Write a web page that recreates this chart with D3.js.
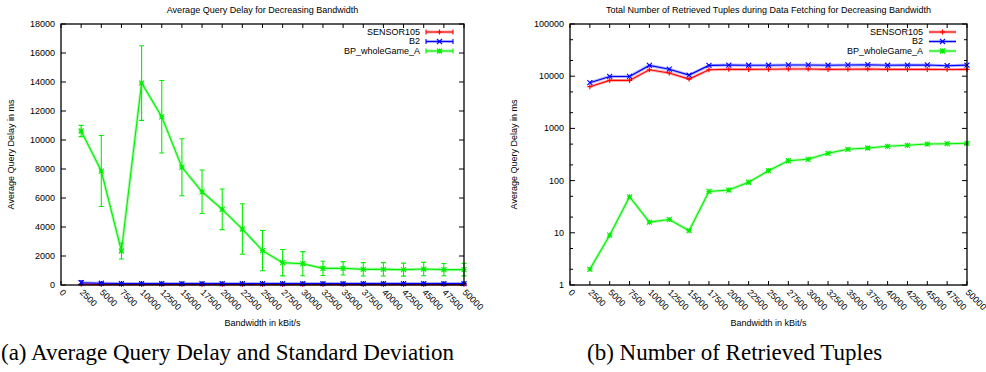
<!DOCTYPE html>
<html>
<head>
<meta charset="utf-8">
<script src="https://cdn.jsdelivr.net/npm/d3@7"></script>
<style>
  body { margin: 0; background: #fff; }
  svg { display: block; }
  text { font-family: "Liberation Sans", Arial, sans-serif; fill: #000; }
  .caption { font-family: "Liberation Serif", "Times New Roman", serif; }
</style>
</head>
<body>
<svg id="fig" width="986" height="372"></svg>
<script>
// bandwidth steps (kBit/s)
const bandwidth = [2500, 5000, 7500, 10000, 12500, 15000, 17500, 20000, 22500, 25000,
  27500, 30000, 32500, 35000, 37500, 40000, 42500, 45000, 47500, 50000];
const xTickLabels = ['0', '2500', '5000', '7500', '10000', '12500', '15000', '17500', '20000',
  '22500', '25000', '27500', '30000', '32500', '35000', '37500', '40000', '42500', '45000',
  '47500', '50000'];
const delayTicks = [0, 2000, 4000, 6000, 8000, 10000, 12000, 14000, 16000, 18000];
const tupleTicks = [1, 10, 100, 1000, 10000, 100000];
const seriesNames = ['SENSOR105', 'B2', 'BP_wholeGame_A'];

// (a) average query delay in ms, with standard deviation
const delaySensor = [45, 40, 40, 40, 40, 40, 40, 40, 40, 40, 40, 40, 40, 40, 40, 40, 40, 40, 40, 40];
const delaySensorSd = [20, 15, 15, 15, 15, 15, 15, 15, 15, 15, 15, 15, 15, 15, 15, 15, 15, 15, 15, 15];
const delayB2 = [160, 120, 100, 100, 100, 100, 100, 100, 100, 100, 100, 100, 100, 100, 100, 100, 100, 100, 100, 100];
const delayB2Sd = [130, 50, 30, 30, 30, 30, 30, 30, 30, 30, 30, 30, 30, 30, 30, 30, 30, 30, 30, 30];
const delayBP = [10620, 7860, 2345, 13930, 11600, 8120, 6430, 5220, 3860, 2370,
  1540, 1470, 1150, 1150, 1080, 1080, 1060, 1100, 1060, 1060];
const delayBPSd = [390, 2450, 550, 2575, 2500, 1965, 1500, 1400, 1740, 1390,
  910, 830, 490, 460, 460, 460, 450, 460, 420, 430];

// (b) number of retrieved tuples
const tuplesSensor = [6300, 8300, 8300, 13300, 11500, 8800, 13300, 13600, 13500, 13600,
  13700, 13700, 13500, 13600, 13700, 13500, 13500, 13500, 13400, 13500];
const tuplesB2 = [7500, 9900, 9900, 16100, 13600, 10500, 16100, 16300, 16200, 16200,
  16400, 16400, 16200, 16400, 16600, 16200, 16300, 16400, 15900, 16300];
const tuplesBP = [2, 9, 49, 16, 18, 11, 62, 66, 93, 155, 240, 256, 333, 398, 421, 454, 475, 502, 509, 518];

const colors = ['#ff0000', '#0000ff', '#00f000'];
const markers = ['plus', 'cross', 'star'];

const svg = d3.select('#fig');

function markerPath(type, s) {
  const plus = `M${-s},0H${s}M0,${-s}V${s}`;
  const cross = `M${-s},${-s}L${s},${s}M${-s},${s}L${s},${-s}`;
  if (type === 'plus') return plus;
  if (type === 'cross') return cross;
  return plus + cross;
}

function drawPanel(cfg) {
  const { left, right, top, bottom } = cfg;
  const g = svg.append('g');
  const x = d3.scaleLinear().domain([0, 50000]).range([left, right]);
  const y = cfg.log
    ? d3.scaleLog().domain([1, 100000]).range([bottom, top])
    : d3.scaleLinear().domain([0, 18000]).range([bottom, top]);

  // title
  g.append('text')
    .attr('x', (left + right) / 2).attr('y', 13)
    .attr('text-anchor', 'middle').attr('font-size', 9)
    .text(cfg.title);

  // ticks (inward, mirrored)
  const xt = xTickLabels.map(Number);
  g.selectAll('.xtick').data(xt).enter().append('path')
    .attr('d', d => `M${x(d)},${bottom}v-4M${x(d)},${top}v4`)
    .attr('stroke', '#000').attr('stroke-width', 1);
  g.selectAll('.xlab').data(xTickLabels).enter().append('text')
    .attr('transform', d => `translate(${x(+d) - 2},${bottom + 8}) rotate(45)`)
    .attr('font-size', 9)
    .text(d => d);

  const yt = cfg.yTicks;
  g.selectAll('.ytick').data(yt).enter().append('path')
    .attr('d', d => `M${left},${y(d)}h5M${right},${y(d)}h-5`)
    .attr('stroke', '#000').attr('stroke-width', 1);
  g.selectAll('.ylab').data(yt).enter().append('text')
    .attr('x', left - 6).attr('y', d => y(d)).attr('dy', '0.33em')
    .attr('text-anchor', 'end').attr('font-size', 9)
    .text(d => d);
  if (cfg.log) {
    const minor = [];
    yt.slice(0, -1).forEach(d => { minor.push(d * 2, d * 5); });
    g.selectAll('.ymin').data(minor).enter().append('path')
      .attr('d', d => `M${left},${y(d)}h3M${right},${y(d)}h-3`)
      .attr('stroke', '#000').attr('stroke-width', 1);
  }

  // axis titles
  g.append('text')
    .attr('transform', `translate(${cfg.yLabelX},${(top + bottom) / 2}) rotate(-90)`)
    .attr('text-anchor', 'middle').attr('font-size', 9)
    .text('Average Query Delay in ms');
  g.append('text')
    .attr('x', (left + right) / 2).attr('y', 326)
    .attr('text-anchor', 'middle').attr('font-size', 9)
    .text('Bandwidth in kBit/s');

  // series
  const line = d3.line().x(d => x(d.x)).y(d => y(d.y));
  cfg.series.forEach((s, i) => {
    const pts = bandwidth.map((b, j) => ({ x: b, y: s.values[j], e: s.sd ? s.sd[j] : 0 }));
    const sg = g.append('g').attr('stroke', colors[i]).attr('fill', 'none');
    sg.append('path').attr('d', line(pts)).attr('stroke-width', 3).attr('stroke-opacity', 0.3);
    sg.append('path').attr('d', line(pts)).attr('stroke-width', 1.1);
    if (s.sd) {
      sg.selectAll('.err').data(pts).enter().append('path')
        .attr('d', d => {
          const y0 = y(Math.max(0, d.y - d.e)), y1 = y(d.y + d.e), cx = x(d.x);
          return `M${cx},${y0}V${y1}M${cx - 2.5},${y0}h5M${cx - 2.5},${y1}h5`;
        })
        .attr('stroke-width', 1.1);
    }
    sg.selectAll('.pt').data(pts).enter().append('path')
      .attr('transform', d => `translate(${x(d.x)},${y(d.y)})`)
      .attr('d', markerPath(markers[i], 2.5))
      .attr('stroke-width', 1.1);

    // legend
    const ly = 32 + i * 9.5;
    g.append('text')
      .attr('x', cfg.legendX).attr('y', ly).attr('dy', '0.33em')
      .attr('text-anchor', 'end').attr('font-size', 9)
      .text(seriesNames[i]);
    const lx0 = cfg.legendX + 6, lx1 = cfg.legendX + 33;
    const lg = g.append('g').attr('stroke', colors[i]).attr('fill', 'none');
    lg.append('path').attr('d', `M${lx0},${ly}H${lx1}`).attr('stroke-width', 3).attr('stroke-opacity', 0.3);
    lg.append('path').attr('d', `M${lx0},${ly}H${lx1}`).attr('stroke-width', 1.1);
    if (s.sd) {
      lg.append('path').attr('d', `M${lx0},${ly - 2.5}v5M${lx1},${ly - 2.5}v5`).attr('stroke-width', 1.1);
    }
    lg.append('path').attr('transform', `translate(${(lx0 + lx1) / 2},${ly})`)
      .attr('d', markerPath(markers[i], 2.5)).attr('stroke-width', 1.1);
  });

  // frame
  g.append('rect')
    .attr('x', left).attr('y', top).attr('width', right - left).attr('height', bottom - top)
    .attr('fill', 'none').attr('stroke', '#000').attr('stroke-width', 1.3);
}

drawPanel({
  left: 61, right: 464, top: 24, bottom: 285, log: false,
  title: 'Average Query Delay for Decreasing Bandwidth',
  yTicks: delayTicks, yLabelX: 14, legendX: 420,
  series: [
    { values: delaySensor, sd: delaySensorSd },
    { values: delayB2, sd: delayB2Sd },
    { values: delayBP, sd: delayBPSd }
  ]
});

drawPanel({
  left: 570, right: 967, top: 24, bottom: 285, log: true,
  title: 'Total Number of Retrieved Tuples during Data Fetching for Decreasing Bandwidth',
  yTicks: tupleTicks, yLabelX: 517, legendX: 923,
  series: [
    { values: tuplesSensor },
    { values: tuplesB2 },
    { values: tuplesBP }
  ]
});

// sub-figure captions
svg.append('text').attr('class', 'caption')
  .attr('x', 1).attr('y', 360).attr('font-size', 23)
  .text('(a)  Average Query Delay and Standard Deviation');
svg.append('text').attr('class', 'caption')
  .attr('x', 587).attr('y', 360).attr('font-size', 23)
  .text('(b)  Number of Retrieved Tuples');
</script>
</body>
</html>
